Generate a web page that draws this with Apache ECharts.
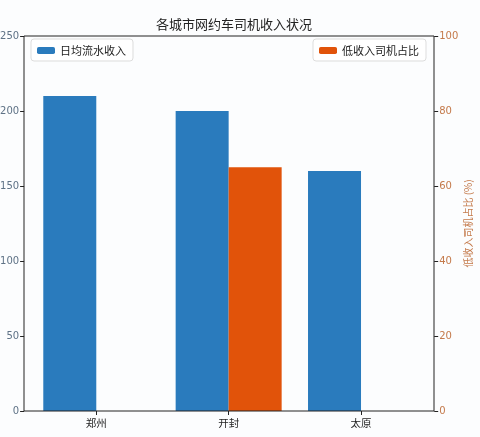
<!DOCTYPE html>
<html><head><meta charset="utf-8">
<script src="https://cdn.jsdelivr.net/npm/echarts@6/dist/echarts.min.js"></script>
<style>html,body{margin:0;padding:0;background:#fcfdfe;}#c{width:480px;height:437px;}</style>
</head><body><div id="c"></div>
<script>
const categories = ['郑州', '开封', '太原'];
const dailyIncome = [210, 200, 160];
const lowIncomeShare = [null, 65, null];
const titleText = '各城市网约车司机收入状况';
const incomeName = '日均流水收入';
const shareName = '低收入司机占比';
const shareAxisName = '低收入司机占比 (%)';

const FONT = '"Noto Sans CJK SC", "DejaVu Sans", sans-serif';
const NUMFONT = '"DejaVu Sans", "Noto Sans CJK SC", sans-serif';
const chart = echarts.init(document.getElementById('c'), null, {renderer: 'canvas'});
chart.setOption({
  backgroundColor: '#fcfdfe',
  animation: false,
  textStyle: {fontFamily: FONT},
  title: {
    text: titleText, left: 229, top: 13, textAlign: 'center',
    textStyle: {fontSize: 13, fontWeight: 'normal', color: '#222', fontFamily: FONT}
  },
  legend: [
    {data: [incomeName], left: 31, top: 39, itemWidth: 18, itemHeight: 7, itemGap: 8,
     padding: [6, 7, 5, 6], borderColor: '#ddd', borderWidth: 1, borderRadius: 3, backgroundColor: '#fff',
     textStyle: {fontSize: 11, color: '#222', fontFamily: FONT}, selectedMode: false},
    {data: [shareName], right: 54, top: 39, itemWidth: 18, itemHeight: 7,
     padding: [6, 7, 5, 6], borderColor: '#ddd', borderWidth: 1, borderRadius: 3, backgroundColor: '#fff',
     textStyle: {fontSize: 11, color: '#222', fontFamily: FONT}, selectedMode: false}
  ],
  grid: {left: 30.1, right: 52.8, top: 36, bottom: 26, containLabel: false, outerBoundsMode: 'none'},
  xAxis: {
    type: 'category', data: categories, boundaryGap: true,
    axisLine: {show: false},
    axisTick: {show: true, alignWithLabel: true, length: 4, lineStyle: {color: '#222'}},
    axisLabel: {fontSize: 10.5, color: '#222', margin: 7, fontFamily: FONT}
  },
  yAxis: [
    {type: 'value', min: 0, max: 250, interval: 50, position: 'left', offset: 6,
     axisLine: {show: false},
     axisTick: {show: true, length: 4, lineStyle: {color: '#222'}},
     axisLabel: {fontSize: 10, color: '#5e7286', margin: 5, fontFamily: NUMFONT},
     splitLine: {show: false}},
    {type: 'value', min: 0, max: 100, interval: 20, position: 'right', offset: 7,
     axisLine: {show: false},
     axisTick: {show: true, length: 4, lineStyle: {color: '#222'}},
     axisLabel: {fontSize: 10, color: '#c47a4b', margin: 5, fontFamily: NUMFONT},
     splitLine: {show: false},
     name: shareAxisName, nameLocation: 'middle', nameRotate: 90, nameGap: 29, nameMoveOverlap: false,
     nameTextStyle: {fontSize: 10, color: '#c47a4b', fontFamily: FONT}}
  ],
  series: [
    {name: incomeName, type: 'bar', yAxisIndex: 0, data: dailyIncome, barWidth: 53, barGap: '0%',
     itemStyle: {color: '#2a7bbd'}},
    {name: shareName, type: 'bar', yAxisIndex: 1, data: lowIncomeShare, barWidth: 53, barGap: '0%',
     itemStyle: {color: '#e1530a'}}
  ],
  graphic: [
    {type: 'rect', z: 100, silent: true, shape: {x: 24, y: 36, width: 410, height: 375},
     style: {fill: 'none', stroke: '#222', lineWidth: 1}}
  ]
});
</script></body></html>
